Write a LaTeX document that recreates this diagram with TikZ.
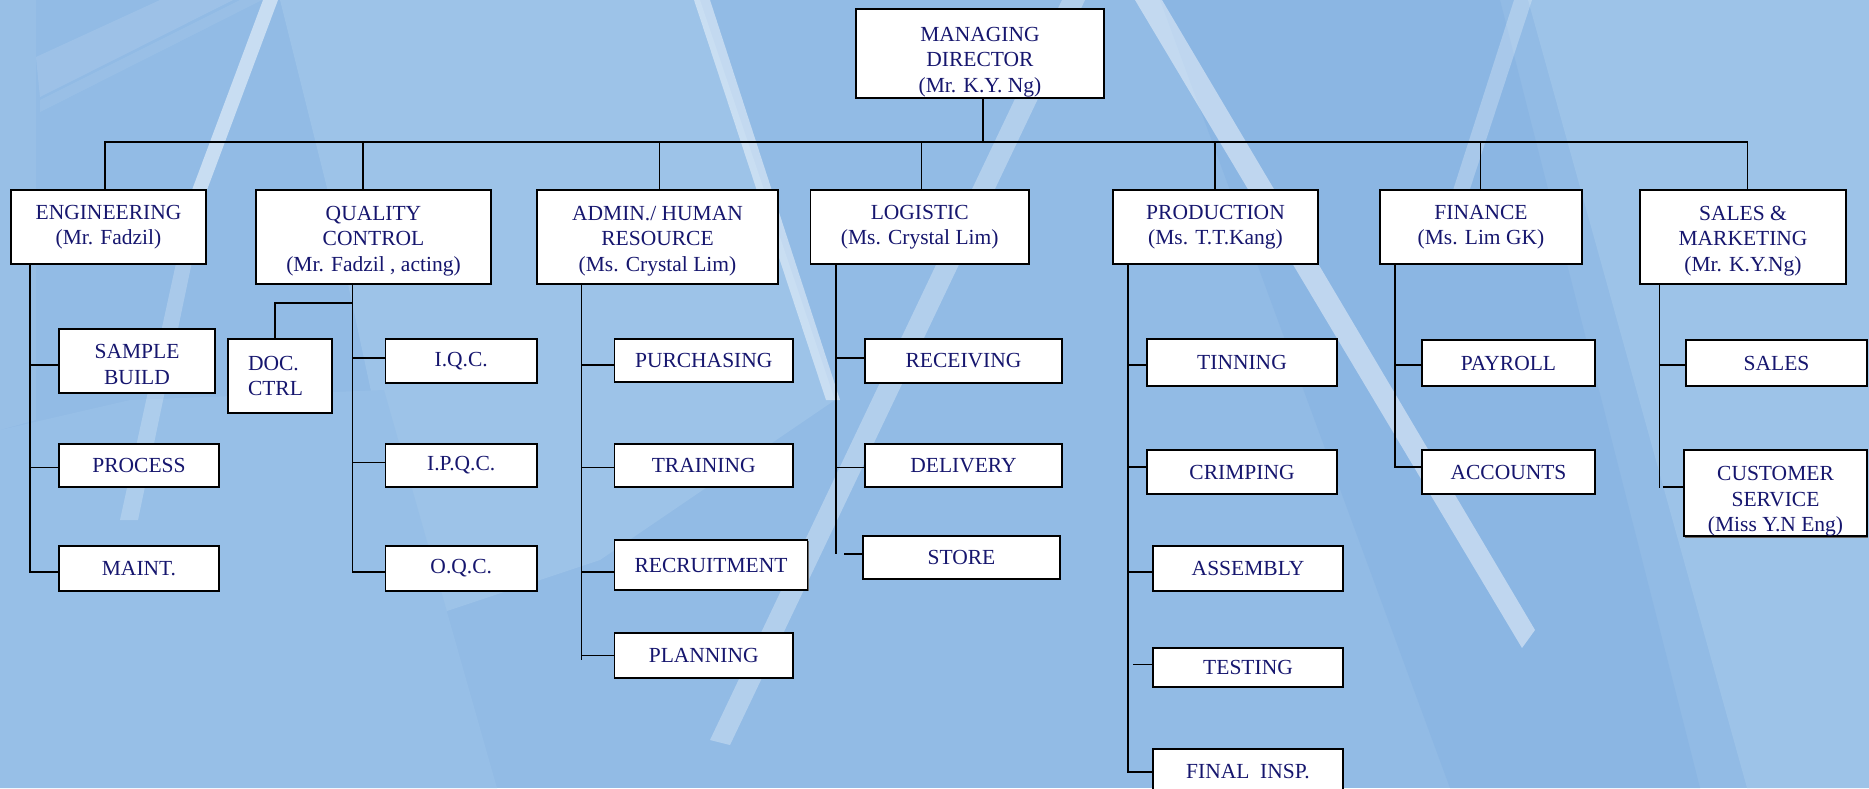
\documentclass[tikz,border=0pt]{standalone}
\usepackage{fontspec}
\setmainfont{Liberation Serif}
\usetikzlibrary{shadows}
\definecolor{navytext}{RGB}{22,22,110}
\definecolor{bgbase}{RGB}{146,187,229}
\definecolor{bglight}{RGB}{157,195,232}
\definecolor{bgsoft}{RGB}{151,191,231}
\definecolor{bgdark}{RGB}{139,182,227}
\tikzset{
  obox/.style={draw=black, line width=1.8pt, fill=white, inner sep=0pt, align=center,
    text=navytext, font=\fontsize{21.5}{25.5}\selectfont,
    drop shadow={shadow xshift=1.2pt, shadow yshift=-1.2pt, fill=black!60, opacity=1}},
  conn/.style={draw=black, line width=1.8pt, line cap=rect},
  streak/.style={fill=white, opacity=#1},
}
\newcommand\obx[6]{\node[obox, minimum width={#3-#2}, minimum height={#5-#4}] (#1) at ({(#2+#3)/2},{(#4+#5)/2}) {#6};}
\newcommand\brn[4]{\draw[conn] ([yshift=#3pt]#1.west) -- ([yshift=#3pt,xshift=#4pt]#1.west -| #2);}
\newcommand\tp[1]{\rule{0pt}{#1pt}}
\begin{document}
\begin{tikzpicture}[x=1pt,y=-1pt]
\useasboundingbox (0,0) rectangle (1869,788);
\clip (0,0) rectangle (1869,788);
% background
\fill[bgbase] (0,0) rectangle (1869,788);
\fill[bglight] (280,0) -- (700,0) -- (835,400) -- (600,560) -- (420,620) -- (330,200) -- cycle;
\fill[bglight] (1528,0) -- (1869,0) -- (1869,788) -- (1747,788) -- cycle;
\fill[bgsoft] (0,430) -- (130,400) -- (384,390) -- (497,788) -- (0,788) -- cycle;
\fill[bgdark] (1160,0) -- (1500,0) -- (1700,788) -- (1450,788) -- cycle;
\fill[streak=0.06] (0,0) -- (36,0) -- (36,420) -- (0,430) -- cycle;
\fill[streak=0.10] (36,57) -- (160,0) -- (233,0) -- (40,97) -- cycle;
\fill[streak=0.07] (40,100) -- (240,0) -- (262,0) -- (40,112) -- cycle;
\fill[streak=0.5] (263,0) -- (278,0) -- (207,190) -- (192,190) -- cycle;
\fill[streak=0.22] (192,190) -- (207,190) -- (138,520) -- (120,520) -- cycle;
\fill[streak=0.45] (694,0) -- (710,0) -- (840,400) -- (826,400) -- cycle;
\fill[streak=0.3] (1062,0) -- (1085,0) -- (730,745) -- (710,740) -- cycle;
\fill[streak=0.45] (1135,0) -- (1162,0) -- (1535,630) -- (1522,648) -- cycle;
\fill[streak=0.25] (1514,0) -- (1532,0) -- (1445,265) -- (1430,262) -- cycle;
% top level
\obx{md}{856}{1104}{9}{98}{\tp{31}MANAGING\\DIRECTOR\\(Mr. K.Y. Ng)}
\obx{eng}{11}{206}{190}{264}{ENGINEERING\\(Mr. Fadzil)}
\obx{qc}{256}{491}{190}{284}{\tp{22.5}QUALITY\\CONTROL\\(Mr. Fadzil , acting)}
\obx{adm}{537}{778}{190}{284}{\tp{22.5}ADMIN./ HUMAN\\RESOURCE\\(Ms. Crystal Lim)}
\obx{log}{810.5}{1029}{190}{264}{LOGISTIC\\(Ms. Crystal Lim)}
\obx{prod}{1113}{1318}{190}{264}{PRODUCTION\\(Ms. T.T.Kang)}
\obx{fin}{1380}{1582}{190}{264}{FINANCE\\(Ms. Lim GK)}
\obx{sm}{1640}{1846}{190}{284}{\tp{22.5}SALES \&\\MARKETING\\(Mr. K.Y.Ng)}
% children
\obx{sb}{59}{215}{329}{393}{\tp{21.5}SAMPLE\\BUILD}
\obx{proc}{59}{219}{444}{487}{PROCESS}
\obx{maint}{59}{219}{546}{591}{MAINT.}
\node[obox, minimum width=103.5pt, minimum height=74pt, text width=64pt, align=left] (doc) at (280,376) {DOC.\\CTRL};
\obx{iqc}{385.5}{537}{339}{383}{I.Q.C.}
\obx{ipqc}{385.5}{537}{444}{487}{I.P.Q.C.}
\obx{oqc}{385.5}{537}{546}{591}{O.Q.C.}
\obx{pur}{614.5}{793}{339}{382}{PURCHASING}
\obx{tra}{614.5}{793}{444}{487}{TRAINING}
\obx{rec}{614.5}{807.5}{540}{590}{RECRUITMENT}
\obx{pla}{614.5}{793}{633}{678}{PLANNING}
\obx{rcv}{865}{1062}{339}{383}{RECEIVING}
\obx{del}{865}{1062}{444}{487}{DELIVERY}
\obx{sto}{863}{1060}{536}{579}{STORE}
\obx{tin}{1147}{1337}{339}{386}{TINNING}
\obx{cri}{1147}{1337}{450}{494}{CRIMPING}
\obx{asm}{1153}{1343}{546}{591}{ASSEMBLY}
\obx{tes}{1153}{1343}{648}{687}{TESTING}
\obx{fi}{1153}{1343}{749}{795}{FINAL\ \ INSP.}
\obx{pay}{1422}{1595}{340}{386}{PAYROLL}
\obx{acc}{1422}{1595}{450}{494}{ACCOUNTS}
\obx{sal}{1686}{1867}{340}{386}{SALES}
\obx{cs}{1684}{1867}{450}{536}{\tp{31}CUSTOMER\\SERVICE\\(Miss Y.N Eng)}
% bus
\coordinate (b0) at (983,142);
\coordinate (b1) at (105,142);
\coordinate (b2) at (362.7,142);
\coordinate (b3) at (659.5,142);
\coordinate (b4) at (921.4,142);
\coordinate (b5) at (1215,142);
\coordinate (b6) at (1480.4,142);
\coordinate (b7) at (1747.5,142);
\draw[conn] (md.south -| b0) -- (b0);
\draw[conn] (b1) -- (b7);
\draw[conn] (b1) -- (b1 |- eng.north);
\draw[conn] (b2) -- (b2 |- qc.north);
\draw[conn] (b3) -- (b3 |- adm.north);
\draw[conn] (b4) -- (b4 |- log.north);
\draw[conn] (b5) -- (b5 |- prod.north);
\draw[conn] (b6) -- (b6 |- fin.north);
\draw[conn] (b7) -- (b7 |- sm.north);
% spines
\coordinate (engsp) at (30,572);
\coordinate (qcsp) at (352.5,572);
\coordinate (admsp) at (581.5,659);
\coordinate (logsp) at (836.3,553.3);
\coordinate (prodsp) at (1127.6,772);
\coordinate (finsp) at (1395.3,467.3);
\coordinate (smsp) at (1659.5,486.7);
\draw[conn] (eng.south -| engsp) -- (engsp);
\draw[conn] (qc.south -| qcsp) -- (qcsp);
\draw[conn] (adm.south -| admsp) -- (admsp);
\draw[conn] (log.south -| logsp) -- (logsp);
\draw[conn] (prod.south -| prodsp) -- (prodsp);
\draw[conn] (fin.south -| finsp) -- (finsp);
\draw[conn] (sm.south -| smsp) -- (smsp);
% doc branch
\coordinate (qcj) at (352.5,303);
\draw[conn] (qcj) -| ([xshift=-5pt]doc.north);
% branches
\brn{sb}{engsp}{-4}{0}
\brn{proc}{engsp}{-2}{0}
\brn{maint}{engsp}{-3.5}{0}
\brn{iqc}{qcsp}{3}{0}
\brn{ipqc}{qcsp}{3}{0}
\brn{oqc}{qcsp}{-3.5}{0}
\brn{pur}{admsp}{-4.5}{0}
\brn{tra}{admsp}{-2}{0}
\brn{rec}{admsp}{-7}{0}
\brn{pla}{admsp}{0}{0}
\brn{rcv}{logsp}{3}{0}
\brn{del}{logsp}{-2}{0}
\brn{sto}{logsp}{3.5}{9}
\brn{tin}{prodsp}{-2.5}{0}
\brn{cri}{prodsp}{5}{0}
\brn{asm}{prodsp}{-3.5}{0}
\brn{tes}{prodsp}{3}{6}
\brn{fi}{prodsp}{0}{0}
\brn{pay}{finsp}{-2}{0}
\brn{acc}{finsp}{5}{0}
\brn{sal}{smsp}{-2}{0}
\brn{cs}{smsp}{6}{4}
\end{tikzpicture}
\end{document}
